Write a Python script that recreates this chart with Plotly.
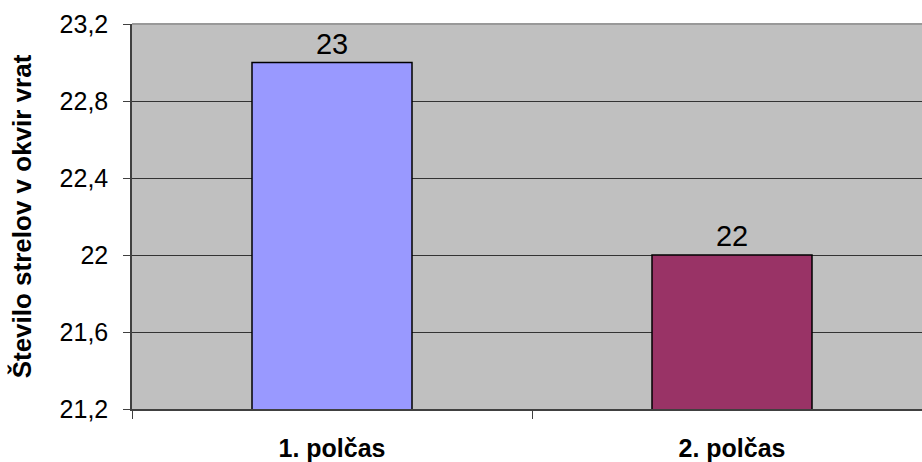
import plotly.graph_objects as go

categories = ["1. polčas", "2. polčas"]
values = [23, 22]
colors = ["#9999FF", "#993366"]
y_ticks = [21.2, 21.6, 22.0, 22.4, 22.8, 23.2]
y_tick_labels = ["21,2", "21,6", "22", "22,4", "22,8", "23,2"]

FONT = "Liberation Sans, Arial"

fig = go.Figure()
fig.add_trace(go.Bar(
    x=categories, y=values, width=0.4,
    marker=dict(color=colors, line=dict(color="black", width=1.5)),
    text=[str(v) for v in values], textposition="outside",
    textfont=dict(family=FONT, size=29, color="black"),
    cliponaxis=False,
))

fig.update_layout(
    width=922, height=462,
    margin=dict(l=132, r=0, t=24, b=49),
    paper_bgcolor="white", plot_bgcolor="#C0C0C0",
    showlegend=False,
    font=dict(family=FONT, color="black"),
)
fig.update_xaxes(
    type="category", range=[-0.5, 1.475],
    showgrid=False, showline=True, linecolor="#404040", linewidth=1.5,
    ticks="outside", tickson="boundaries", ticklen=8, tickcolor="#404040",
    ticklabelstandoff=16,
    tickfont=dict(size=25, family=FONT, color="black", weight="bold"),
)
fig.update_yaxes(
    range=[21.2, 23.2], tickvals=y_ticks, ticktext=y_tick_labels,
    showgrid=True, gridcolor="#333333", gridwidth=1,
    showline=True, linecolor="#404040", linewidth=1.5,
    ticks="outside", ticklen=7, tickcolor="#404040",
    ticklabelstandoff=10,
    tickfont=dict(size=25, family=FONT, color="black"),
    title=dict(text="Število strelov v okvir vrat", standoff=20,
               font=dict(size=26, family=FONT, color="black", weight="bold")),
    zeroline=False,
)
fig.add_shape(type="line", xref="paper", yref="paper", x0=0, x1=1, y0=1, y1=1,
              line=dict(color="#999999", width=2))

fig.write_html("out.html", config={"displayModeBar": False},
               post_script="document.body.style.margin='0';")
